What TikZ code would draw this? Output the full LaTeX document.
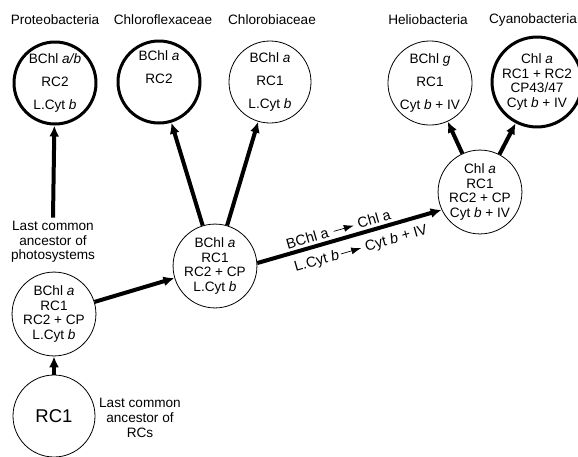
\documentclass[tikz,border=0pt]{standalone}
\usepackage{fontspec}
\setmainfont{Liberation Sans}
\usetikzlibrary{arrows.meta}
\newcommand{\becomes}{\tikz[baseline=-0.6ex]\draw[line width=0.7pt,-{Latex[length=10pt,width=7pt]}] (0pt,0pt)--(21pt,0pt);}

\begin{document}
\begin{tikzpicture}[x=1pt,y=-1pt, line join=round, font=\fontsize{13.6}{14.7}\selectfont,
    org/.style={circle,draw,line width=0.8pt,minimum size=82pt,inner sep=0pt,align=center},
    orgthick/.style={org,line width=3pt},
    spread/.style={font=\fontsize{13.6}{23}\selectfont},
    change/.style={sloped,font=\fontsize{14.5}{16}\selectfont},
    branch/.style={line width=4pt,-{Latex[length=11pt,width=10pt]}}]
\useasboundingbox (0,0) rectangle (578,456);
% taxa
\node (tproteo) at (55,20) {Proteobacteria};
\node (tflexa) at (163,20) {Chloroflexaceae};
\node (tchlorob) at (272,20) {Chlorobiaceae};
\node (thelio) at (428,20) {Heliobacteria};
\node (tcyano) at (533,20) {Cyanobacteria};
\node[orgthick,spread] (proteo) at (55,83) {BChl \textit{a/b}\\RC2\\L.Cyt \textit{b}};
\node[orgthick,spread] (flexa) at (159,82) {BChl \textit{a}\\RC2\\\strut};
\node[org,spread] (chlorob) at (270,82) {BChl \textit{a}\\RC1\\L.Cyt \textit{b}};
\node[org,spread] (helio) at (430,83) {BChl \textit{g}\\RC1\\Cyt \textit{b} + IV};
\node[orgthick,minimum size=80pt] (cyano) at (537,82) {Chl \textit{a}\\RC1 + RC2\\CP43/47\\Cyt \textit{b} + IV};
% ancestors
\node[org] (chla) at (480,192) {Chl \textit{a}\\RC1\\RC2 + CP\\Cyt \textit{b} + IV};
\node[org] (mid) at (215,266) {BChl \textit{a}\\RC1\\RC2 + CP\\L.Cyt \textit{b}};
\node[org] (lcap) at (54,314) {BChl \textit{a}\\RC1\\RC2 + CP\\L.Cyt \textit{b}};
\node[org,font=\fontsize{18.5}{20}\selectfont] (rcone) at (54,416) {RC1};
\node[align=center] (tlcap) at (53,242) {Last common\\ancestor of\\photosystems};
\node[align=center] (tlcarc) at (140,418) {Last common\\ancestor of\\RCs};
% branches
\draw[branch] (rcone) -- (lcap);
\draw[branch] (lcap) -- (mid);
\draw[branch] (tlcap.north) -- (proteo);
\draw[branch] (mid) -- (flexa);
\draw[branch] (mid) -- (chlorob);
\draw[branch] (mid.4) -- (chla.205)
    node[change,above=1pt,pos=0.455] (lbchl) {BChl a\hspace{5pt}\becomes\hspace{4pt}Chl a}
    node[change,below=5pt,pos=0.54] (lcyt) {L.Cyt \textit{b}\hspace{2pt}\becomes\hspace{4pt}Cyt \textit{b} + IV};
\draw[branch] (chla) -- (helio);
\draw[branch] (chla) -- (cyano);
\end{tikzpicture}
\end{document}
